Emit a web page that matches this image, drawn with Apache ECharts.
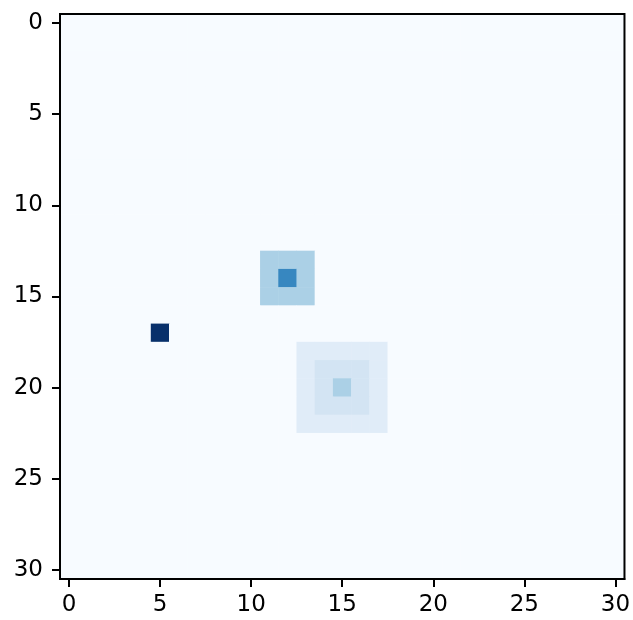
<!DOCTYPE html>
<html>
<head>
<meta charset="utf-8">
<script src="https://cdn.jsdelivr.net/npm/echarts@6/dist/echarts.min.js"></script>
<style>html,body{margin:0;padding:0;background:#fff;}#c{width:633px;height:620px;}</style>
</head>
<body>
<div id="c"></div>
<script>
// Grid size (31 x 31 image)
const N = 31;
const tickLabels = ['0','5','10','15','20','25','30'];
// Patches painted in order: [rowStart, rowEnd, colStart, colEnd, value]
const patchRowStart = [13, 14, 18, 19, 20, 17];
const patchRowEnd   = [15, 14, 22, 21, 20, 17];
const patchColStart = [11, 12, 13, 14, 15, 5];
const patchColEnd   = [13, 12, 17, 16, 15, 5];
const patchValue    = [1.0, 2.0, 0.35, 0.55, 1.0, 3.0];
const vMin = 0, vMax = 3;
const bluesColors = ['#f7fbff','#deebf7','#c6dbef','#9ecae1','#6baed6','#4292c6','#2171b5','#08519c','#08306b'];

const cats = [];
for (let i = 0; i < N; i++) cats.push(String(i));
const grid = [];
for (let r = 0; r < N; r++) { grid.push(new Array(N).fill(0)); }
for (let p = 0; p < patchValue.length; p++) {
  for (let r = patchRowStart[p]; r <= patchRowEnd[p]; r++)
    for (let c = patchColStart[p]; c <= patchColEnd[p]; c++) grid[r][c] = patchValue[p];
}
const data = [];
for (let r = 0; r < N; r++) for (let c = 0; c < N; c++) data.push([c, r, grid[r][c]]);

const showIdx = (i) => tickLabels.indexOf(String(i)) >= 0;
const font = {fontFamily: 'DejaVu Sans', fontSize: 23, color: '#000'};

const chart = echarts.init(document.getElementById('c'), null, {renderer: 'canvas'});
chart.setOption({
  animation: false,
  backgroundColor: '#fff',
  grid: {z: 10, left: 60, top: 14, width: 565, height: 565, show: true, borderColor: '#000', borderWidth: 2, backgroundColor: 'transparent'},
  xAxis: {
    z: 10,
    type: 'category', data: cats, position: 'bottom',
    axisLine: {show: true, lineStyle: {color: '#000', width: 2}},
    axisTick: {show: true, alignWithLabel: true, interval: (i) => showIdx(i), length: 8, lineStyle: {color: '#000', width: 2}},
    axisLabel: Object.assign({interval: (i) => showIdx(i), margin: 15}, font),
    splitLine: {show: false}
  },
  yAxis: {
    z: 10,
    type: 'category', data: cats, inverse: true,
    axisLine: {show: true, lineStyle: {color: '#000', width: 2}},
    axisTick: {show: true, alignWithLabel: true, interval: (i) => showIdx(i), length: 8, lineStyle: {color: '#000', width: 2}},
    axisLabel: Object.assign({interval: (i) => showIdx(i), margin: 17}, font),
    splitLine: {show: false}
  },
  visualMap: {show: false, min: vMin, max: vMax, calculable: false, dimension: 2, inRange: {color: bluesColors}},
  series: [{
    type: 'heatmap', data: data, z: 2,
    itemStyle: {borderWidth: 0},
    emphasis: {disabled: true}
  }]
});
</script>
</body>
</html>
